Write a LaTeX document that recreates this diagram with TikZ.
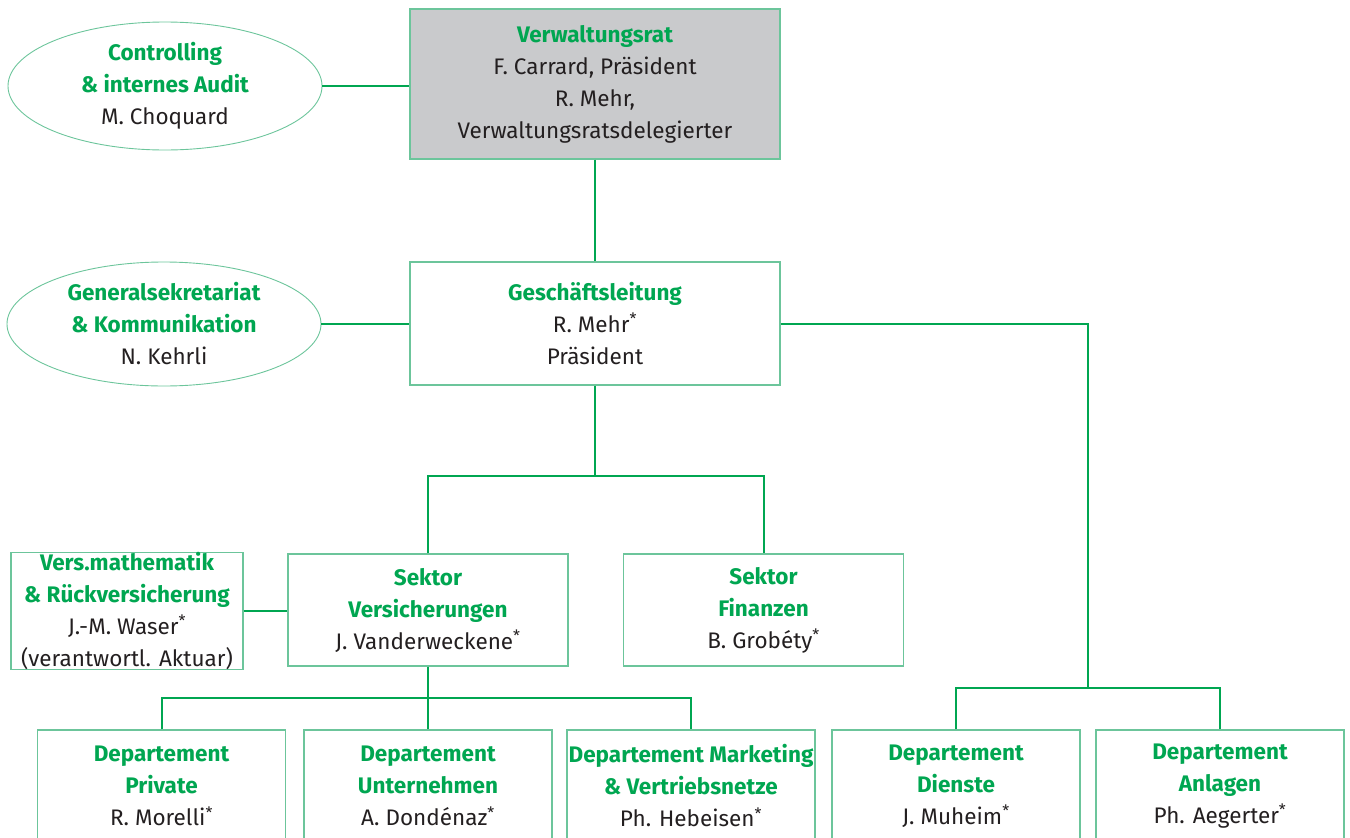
\documentclass[tikz,border=0pt]{standalone}
\usepackage{fontspec}
\setmainfont{Fira Sans}
\usepackage{xcolor}
\definecolor{cgreen}{HTML}{00A651}
\definecolor{cframe}{HTML}{6CC59B}
\definecolor{cgray}{HTML}{C9CACC}
\definecolor{cdark}{HTML}{231F20}
\usepackage{tikz}
\usetikzlibrary{shapes.geometric}
\tikzset{
Unit/.style={
	draw=cframe, line width=1.2pt,
	align=center, text=cdark,
	font=\fontsize{22.5}{32}\selectfont,
	inner sep=0pt
},
BoardUnit/.style={
	Unit,
	fill=cgray
},
StaffUnit/.style={
	Unit, ellipse,
	line width=0.9pt
},
SectorUnit/.style={
	Unit,
	minimum width=280pt, minimum height=112pt
},
DeptUnit/.style={
	Unit,
	minimum width=248pt, minimum height=112pt
},
Edge/.style={
	draw=cgreen, line width=2pt
}
}
\newcommand{\Head}[1]{{\bfseries\color{cgreen}#1}}
\newcommand{\Mem}{\textsuperscript{*}}

\begin{document}
\begin{tikzpicture}[x=1pt, y=-1pt]
	\useasboundingbox (0,0) rectangle (1350,838);

	% top levels
	\node[BoardUnit, minimum width=370pt, minimum height=150pt] (vr) at (595,84) {\Head{Verwaltungsrat}\\F. Carrard, Präsident\\R. Mehr,\\Verwaltungsratsdelegierter};
	\node[Unit, minimum width=370pt, minimum height=123pt] (gl) at (595,323.5) {\Head{Geschäftsleitung}\\R. Mehr\Mem\\Präsident};

	\node[StaffUnit, minimum width=314pt, minimum height=128pt] (ctrl) at (165,86) {\Head{Controlling}\\\Head{\& internes Audit}\\M. Choquard};
	\node[StaffUnit, minimum width=314pt, minimum height=124pt] (gs) at (164,324) {\Head{Generalsekretariat}\\\Head{\& Kommunikation}\\N. Kehrli};

	% sectors
	\node[Unit, minimum width=232pt, minimum height=112pt] (vm) at (127,611) {\Head{Vers.mathematik}\\\Head{\& Rückversicherung}\\J.-M. Waser\Mem\\(verantwortl. Aktuar)};
	\node[SectorUnit] (sv) at (428,610) {\Head{Sektor}\\\Head{Versicherungen}\\J. Vanderweckene\Mem};
	\node[SectorUnit] (sf) at (763.5,610) {\Head{Sektor}\\\Head{Finanzen}\\B. Grobéty\Mem};

	% departements
	\node[DeptUnit] (dp) at (161.5,786) {\Head{Departement}\\\Head{Private}\\R. Morelli\Mem};
	\node[DeptUnit] (du) at (428,786) {\Head{Departement}\\\Head{Unternehmen}\\A. Dondénaz\Mem};
	\node[DeptUnit] (dm) at (691,786) {\Head{Departement Marketing}\\\Head{\& Vertriebsnetze}\\Ph. Hebeisen\Mem};
	\node[DeptUnit] (dd) at (956,786) {\Head{Departement}\\\Head{Dienste}\\J. Muheim\Mem};
	\node[DeptUnit] (da) at (1220,786) {\Head{Departement}\\\Head{Anlagen}\\Ph. Aegerter\Mem};

	\coordinate (sekjoin) at (595,476);
	\coordinate (depjoin) at (428,698);
	\coordinate (diajoin) at (1088,688);

	\draw[Edge] (ctrl.east) -- (ctrl.east -| vr.west);
	\draw[Edge] (gs.east) -- (gs.east -| gl.west);
	\draw[Edge] (vm.east) -- (vm.east -| sv.west);
	\draw[Edge] (vr.south) -- (gl.north);
	\draw[Edge] (gl.south) -- (sekjoin);
	\draw[Edge] (sv.north) |- (sekjoin) -| (sf.north);
	\draw[Edge] (gl.east) -| (diajoin);
	\draw[Edge] (dd.north) |- (diajoin) -| (da.north);
	\draw[Edge] (sv.south) -- (du.north);
	\draw[Edge] (dp.north) |- (depjoin) -| (dm.north);
\end{tikzpicture}
\end{document}
